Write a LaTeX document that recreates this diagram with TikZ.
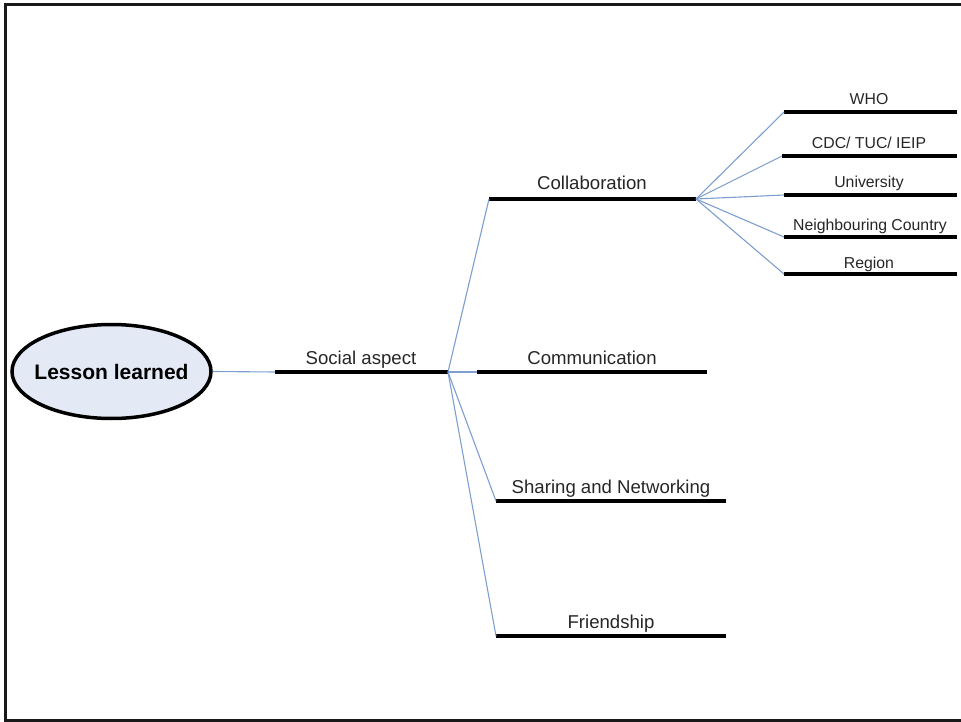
\documentclass[tikz,border=0pt]{standalone}
\usepackage{fontspec}
\setmainfont{Liberation Sans}
\usetikzlibrary{shapes.geometric}
\definecolor{connblue}{RGB}{125,158,208}
\definecolor{rootfill}{RGB}{228,234,245}
\tikzset{
  conn/.style={draw=connblue, line width=1.1pt},
  bar/.style={draw=black, line width=4.3pt},
  lbl/.style={anchor=base, inner sep=0pt, font=\fontsize{18.6}{22}\selectfont, text=black!85},
  sublbl/.style={anchor=base, inner sep=0pt, font=\fontsize{15.8}{19}\selectfont, text=black!85},
  rootnode/.style={ellipse, draw=black, line width=3.5pt, fill=rootfill, minimum width=199pt, minimum height=94pt, inner sep=0pt, font=\fontsize{21}{25}\selectfont\bfseries},
  frame/.style={draw=black!90, line width=3pt}
}
\begin{document}
\begin{tikzpicture}[x=1pt, y=-1pt]
\useasboundingbox (0,0) rectangle (961,722);
% frame
\coordinate (fTL) at (5.5,4.5);
\coordinate (fTR) at (961,4.5);
\coordinate (fBL) at (5.5,720.5);
\coordinate (fBR) at (961,720.5);
\draw[frame] (fTR) -- (fTL) -- (fBL) -- (fBR);

% root
\node[rootnode] (root) at (111.5,371.5) {\makebox[100pt]{Lesson learned}};

% Social aspect
\coordinate (socL) at (275,372);
\coordinate (socR) at (448,372);
\draw[bar] (socL) -- (socR);
\node[lbl] (socT) at (361,364) {Social aspect};
\draw[conn] (root.east) -- (socL);

% level 2
\coordinate (colL) at (489,199);
\coordinate (colR) at (696,199);
\draw[bar] (colL) -- (colR);
\node[lbl] (colT) at (592,190) {Collaboration};

\coordinate (comL) at (477,372);
\coordinate (comR) at (707,372);
\draw[bar] (comL) -- (comR);
\node[lbl] (comT) at (592,364) {Communication};

\coordinate (shaL) at (496,501);
\coordinate (shaR) at (726,501);
\draw[bar] (shaL) -- (shaR);
\node[lbl] (shaT) at (611,493) {Sharing and Networking};

\coordinate (friL) at (496,636);
\coordinate (friR) at (726,636);
\draw[bar] (friL) -- (friR);
\node[lbl] (friT) at (611,628) {Friendship};

\draw[conn] (socR) -- (colL);
\draw[conn] (socR) -- (comL);
\draw[conn] (socR) -- (shaL);
\draw[conn] (socR) -- (friL);

% level 3
\coordinate (whoL) at (784,112);
\coordinate (whoR) at (957,112);
\draw[bar] (whoL) -- (whoR);
\node[sublbl] (whoT) at (869,105) {WHO};

\coordinate (cdcL) at (782,156);
\coordinate (cdcR) at (957,156);
\draw[bar] (cdcL) -- (cdcR);
\node[sublbl] (cdcT) at (869,149) {CDC/ TUC/ IEIP};

\coordinate (uniL) at (784,195);
\coordinate (uniR) at (957,195);
\draw[bar] (uniL) -- (uniR);
\node[sublbl] (uniT) at (869,188) {University};

\coordinate (neiL) at (784,237);
\coordinate (neiR) at (957,237);
\draw[bar] (neiL) -- (neiR);
\node[sublbl] (neiT) at (870,231) {Neighbouring Country};

\coordinate (regL) at (784,274);
\coordinate (regR) at (957,274);
\draw[bar] (regL) -- (regR);
\node[sublbl] (regT) at (869,268) {Region};

\draw[conn] (colR) -- (whoL);
\draw[conn] (colR) -- (cdcL);
\draw[conn] (colR) -- (uniL);
\draw[conn] (colR) -- (neiL);
\draw[conn] (colR) -- (regL);
\end{tikzpicture}
\end{document}
